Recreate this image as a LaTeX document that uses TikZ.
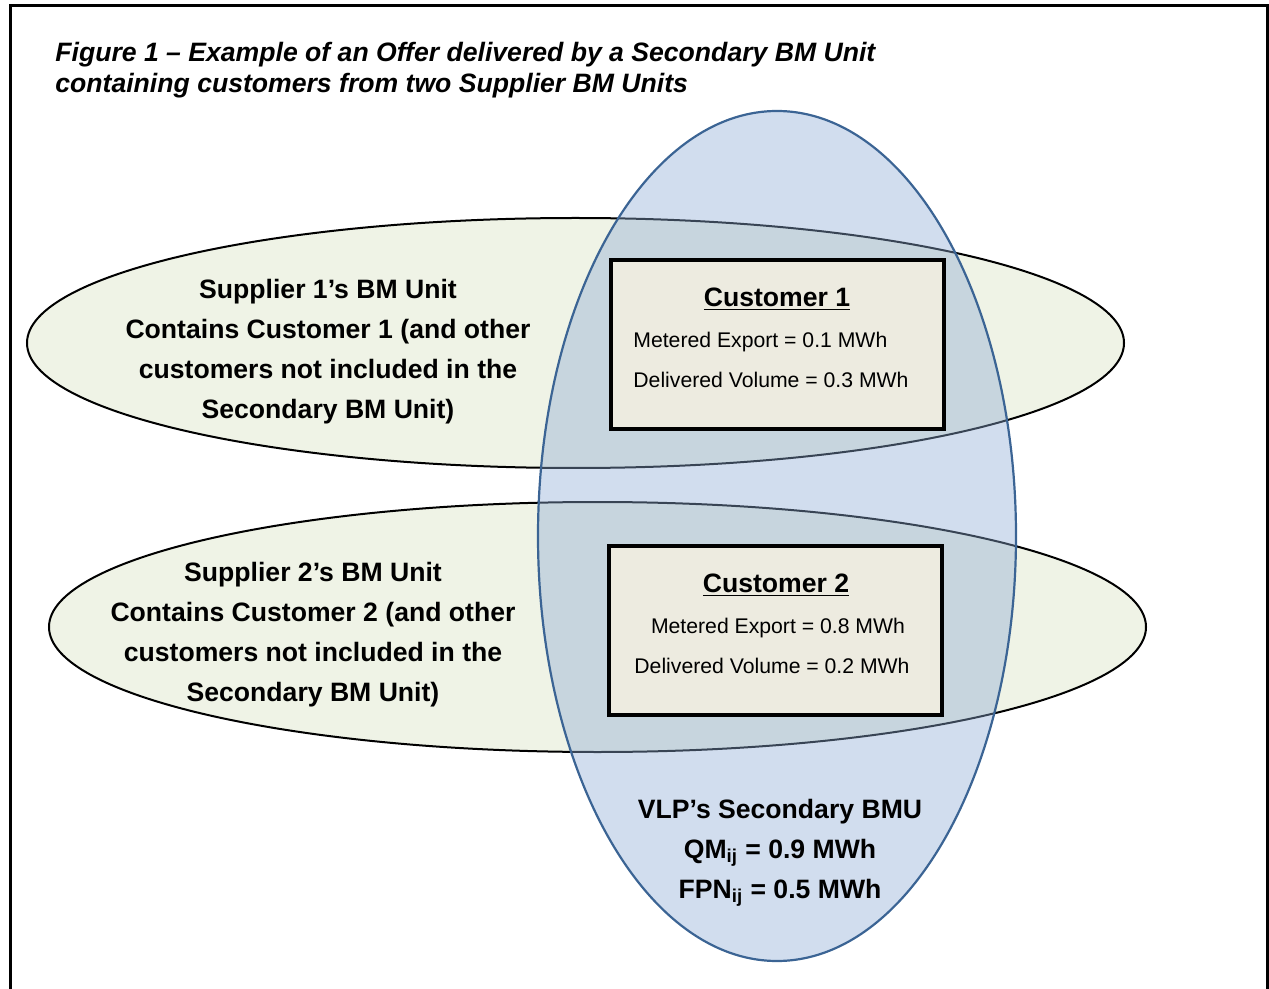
\documentclass[tikz,border=0pt]{standalone}
\usepackage{fontspec}
\setmainfont{Liberation Sans}
\usetikzlibrary{shapes.geometric}
\definecolor{unitgreen}{RGB}{239,243,230}
\definecolor{vlpblue}{RGB}{140,170,212}
\definecolor{vlpedge}{RGB}{59,100,148}
\definecolor{custfill}{RGB}{237,235,224}

\begin{document}
\begin{tikzpicture}
    [x=0.5pt,y=-0.5pt,
    supplier/.style={ellipse,draw=black,fill=unitgreen,line width=1pt,
      inner sep=0pt,minimum width=548.5pt,minimum height=125pt},
    secondary/.style={ellipse,draw=vlpedge,fill=vlpblue,fill opacity=0.4,
      draw opacity=1,line width=1.1pt,inner sep=0pt,
      minimum width=239pt,minimum height=425pt},
    customer/.style={rectangle,draw=black,fill=custfill,line width=2pt,
      inner sep=0pt,minimum width=166.5pt,minimum height=84.5pt},
    unittext/.style={align=center,inner sep=0pt,
      font=\fontsize{13.3}{20}\selectfont\bfseries},
    figtitle/.style={align=left,inner sep=0pt,anchor=north west,
      font=\fontsize{13.3}{15.5}\selectfont\bfseries\itshape},
    custtitle/.style={inner sep=0pt,font=\fontsize{13.3}{16}\selectfont\bfseries},
    custtext/.style={inner sep=0pt,font=\fontsize{10.6}{20}\selectfont}]

    \useasboundingbox (0,0) rectangle (1269,989);

    \draw[line width=1.5pt] (10,989) -- (10,6) -- (1267,6) -- (1267,989);

    \node (fig title)     at (55,42) [figtitle]
      {Figure 1 – Example of an Offer delivered by a Secondary BM Unit\\
       containing customers from two Supplier BM Units};

    \node (supplier 1)    at (575.5,343) [supplier] {};

    \node (supplier 2)    at (597.5,627) [supplier] {};

    \node (secondary bmu) at (777,536) [secondary] {};

    \node (customer 1)    at (777.5,344.5) [customer] {};

    \node (customer 2)    at (775.5,630) [customer] {};

    \node (supplier 1 text) at (328,352) [unittext]
      {Supplier 1’s BM Unit\\Contains Customer 1 (and other\\
       customers not included in the\\Secondary BM Unit)};

    \node (supplier 2 text) at (313,635) [unittext]
      {Supplier 2’s BM Unit\\Contains Customer 2 (and other\\
       customers not included in the\\Secondary BM Unit)};

    \node (customer 1 title) at (777,299) [custtitle] {\underline{Customer 1}};

    \node (customer 1 text)  at (633,360) [custtext,align=left,anchor=west]
      {Metered Export = 0.1 MWh\\Delivered Volume = 0.3 MWh};

    \node (customer 2 title) at (776,585) [custtitle] {\underline{Customer 2}};

    \node (customer 2 text)  at (772,646) [custtext,align=center]
      {\hspace*{6pt}Metered Export = 0.8 MWh\\Delivered Volume = 0.2 MWh};

    \node (secondary text) at (780,853) [unittext]
      {VLP’s Secondary BMU\\QM\textsubscript{ij} = 0.9 MWh\\
       FPN\textsubscript{ij} = 0.5 MWh};

  \end{tikzpicture}
\end{document}
